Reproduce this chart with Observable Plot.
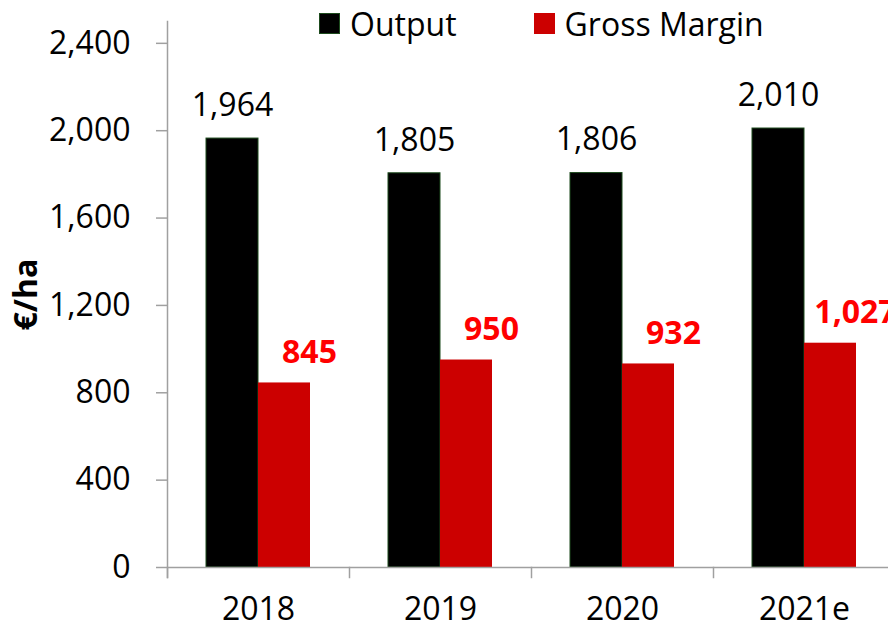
<!DOCTYPE html>
<html><head><meta charset="utf-8">
<script src="https://cdn.jsdelivr.net/npm/d3@7"></script>
<script src="https://cdn.jsdelivr.net/npm/@observablehq/plot@0.6"></script>
<style>
body{margin:0;background:#fff;font-family:"Open Sans",sans-serif;}
#wrap{position:relative;width:888px;height:628px;overflow:hidden;}
#legend{position:absolute;left:319px;top:0;height:47px;display:flex;align-items:center;font-size:32px;color:#000;}
.item{display:flex;align-items:center;margin-right:77px;}
.sw{width:21px;height:21px;box-sizing:border-box;margin-right:10px;}
</style></head><body>
<div id="wrap"><div id="chart"></div><div id="legend"></div></div>
<script>
const years = ["2018", "2019", "2020", "2021e"];
const series = ["Output", "Gross Margin"];
const output = [1964, 1805, 1806, 2010];
const grossMargin = [845, 950, 932, 1027];
const yTicks = [0, 400, 800, 1200, 1600, 2000, 2400];
const colors = ["#000000", "#cc0000"];

const outData = years.map((y, i) => ({year: y, series: series[0], value: output[i]}));
const gmData = years.map((y, i) => ({year: y, series: series[1], value: grossMargin[i]}));
const fmt = d3.format(",");
const axisGray = "#a0a0a0";

const chart = Plot.plot({
  width: 888, height: 628,
  marginLeft: 167, marginRight: -7, marginTop: 21, marginBottom: 61,
  style: {fontFamily: '"Open Sans", sans-serif', fontSize: "32px", color: "#000", background: "#fff"},
  fx: {domain: years, padding: 0, label: null},
  x: {domain: series, paddingInner: 0, paddingOuter: 0.75, axis: null},
  y: {domain: [0, 2500]},
  marks: [
    Plot.barY(outData, {fx: "year", x: "series", y: "value", fill: colors[0], stroke: "#1d4a1d", strokeWidth: 1}),
    Plot.barY(gmData, {fx: "year", x: "series", y: "value", fill: colors[1]}),
    Plot.ruleY([0], {stroke: axisGray, strokeWidth: 1.5}),
    Plot.frame({anchor: "left", insetTop: 546, insetBottom: -10, stroke: axisGray, strokeWidth: 1.5}),
    Plot.frame({anchor: "left", facet: "super", insetBottom: -10, stroke: axisGray, strokeWidth: 1.5}),
    Plot.axisY({ticks: yTicks, tickFormat: fmt, tickSize: 11, tickPadding: 26, fontSize: 32, stroke: axisGray, strokeWidth: 1.5, label: null}),
    Plot.axisY({ticks: [], label: "€/ha", labelAnchor: "center", labelArrow: "none", labelOffset: 153, fontWeight: "bold", fontSize: 32}),
    Plot.axisFx({anchor: "bottom", tickSize: 0, tickPadding: 30, fontSize: 32, label: null}),
    Plot.text(outData, {fx: "year", x: "series", y: "value", text: d => fmt(d.value), dy: -33, fontSize: 32, fill: "#000"}),
    Plot.text(gmData, {fx: "year", x: "series", y: "value", text: d => fmt(d.value), dx: 25, dy: -30, fontSize: 32, fontWeight: "bold", fill: "#ff0000"})
  ]
});
document.getElementById("chart").appendChild(chart);

const legend = document.getElementById("legend");
series.forEach((s, i) => {
  const item = document.createElement("div");
  item.className = "item";
  const sw = document.createElement("div");
  sw.className = "sw";
  sw.style.background = colors[i];
  if (i === 0) sw.style.border = "1px solid #1d4a1d";
  const t = document.createElement("span");
  t.textContent = s;
  item.appendChild(sw); item.appendChild(t);
  legend.appendChild(item);
});
</script>
</body></html>
